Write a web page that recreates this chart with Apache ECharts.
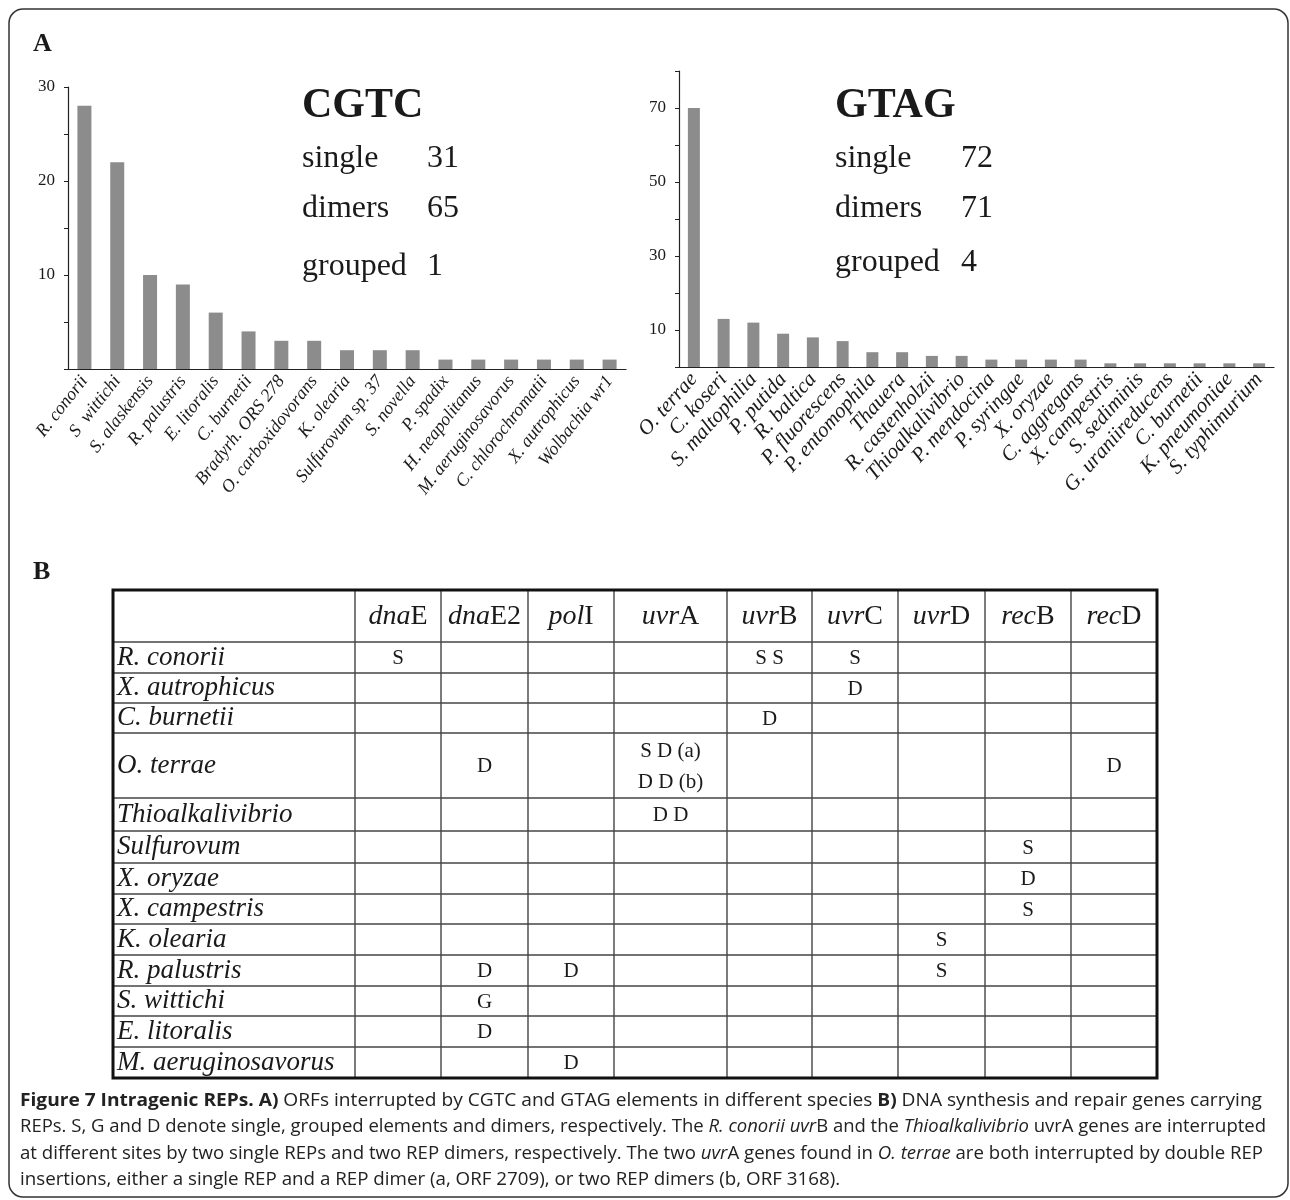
<!DOCTYPE html>
<html><head><meta charset="utf-8">
<script src="https://cdn.jsdelivr.net/npm/echarts@6/dist/echarts.min.js"></script>
<style>html,body{margin:0;padding:0;background:#fff}#c{width:1290px;height:1200px}</style>
</head><body><div id="c"></div>
<script>
// ---- Panel A data ----
const cgtcSpecies = ['R. conorii','S  wittichi','S. alaskensis','R. palustris','E. litoralis','C. burnetii','Bradyrh. ORS 278','O. carboxidovorans','K. olearia','Sulfurovum sp. 37','S. novella','P. spadix','H. neapolitanus','M. aeruginosavorus','C. chlorochromatii','X. autrophicus','Wolbachia wr1'];
const cgtcCounts = [28,22,10,9,6,4,3,3,2,2,2,1,1,1,1,1,1];
const cgtcStats = [['single',31],['dimers',65],['grouped',1]];

const gtagSpecies = ['O. terrae','C. koseri','S. maltophilia','P. putida','R. baltica','P. fluorescens','P. entomophila','Thauera','R. castenholzii','Thioalkalivibrio','P. mendocina','P. syringae','X. oryzae','C. aggregans','X. campestris','S. sediminis','G. uraniireducens','C. burnetii','K. pneumoniae','S. typhimurium'];
const gtagCounts = [70,13,12,9,8,7,4,4,3,3,2,2,2,2,1,1,1,1,1,1];
const gtagStats = [['single',72],['dimers',71],['grouped',4]];

const cgtcYLabels = [10,20,30];
const gtagYLabels = [10,30,50,70];

// ---- Panel B data ----
const geneNames = [['dna','E'],['dna','E2'],['pol','I'],['uvr','A'],['uvr','B'],['uvr','C'],['uvr','D'],['rec','B'],['rec','D']];
const tableSpecies = ['R. conorii','X. autrophicus','C. burnetii','O. terrae','Thioalkalivibrio','Sulfurovum','X. oryzae','X. campestris','K. olearia','R. palustris','S. wittichi','E. litoralis','M. aeruginosavorus'];
const tableCells = [
  ['S','','','','S S','S','','',''],
  ['','','','','','D','','',''],
  ['','','','','D','','','',''],
  ['','D','','S D (a)\nD D (b)','','','','','D'],
  ['','','','D D','','','','',''],
  ['','','','','','','','S',''],
  ['','','','','','','','D',''],
  ['','','','','','','','S',''],
  ['','','','','','','S','',''],
  ['','D','D','','','','S','',''],
  ['','G','','','','','','',''],
  ['','D','','','','','','',''],
  ['','','D','','','','','','']
];

const captionLines = [
  [['Figure 7 Intragenic REPs. A)','b'],[' ORFs interrupted by CGTC and GTAG elements in different species ','r'],['B)','b'],[' DNA synthesis and repair genes carrying','r']],
  [['REPs. S, G and D denote single, grouped elements and dimers, respectively. The ','r'],['R. conorii uvr','i'],['B and the ','r'],['Thioalkalivibrio','i'],[' uvrA genes are interrupted','r']],
  [['at different sites by two single REPs and two REP dimers, respectively. The two ','r'],['uvr','i'],['A genes found in ','r'],['O. terrae','i'],[' are both interrupted by double REP','r']],
  [['insertions, either a single REP and a REP dimer (a, ORF 2709), or two REP dimers (b, ORF 3168).','r']]
];

// ---- layout ----
const SERIF = '"Liberation Serif","Times New Roman",serif';
const SANS = '"Open Sans","Noto Sans",sans-serif';
const INK = '#1a1a1a';
const BAR = '#8c8c8c';

const graphic = [];
graphic.push({type:'rect', shape:{x:9,y:9,width:1279,height:1188,r:14}, style:{fill:'none',stroke:'#333',lineWidth:1.5}, silent:true});
graphic.push({type:'text', x:33, y:44, style:{text:'A', font:'bold 26px '+SERIF, fill:INK, verticalAlign:'middle'}});
graphic.push({type:'text', x:33, y:572, style:{text:'B', font:'bold 26px '+SERIF, fill:INK, verticalAlign:'middle'}});

function statBlock(title, stats, x0, xNum, ys){
  graphic.push({type:'text', x:x0, y:106, style:{text:title, font:'bold 42px '+SERIF, fill:INK, verticalAlign:'middle'}});
  stats.forEach((s,i)=>{
    graphic.push({type:'text', x:x0, y:ys[i], style:{text:s[0], font:'32px '+SERIF, fill:INK, verticalAlign:'middle'}});
    graphic.push({type:'text', x:xNum, y:ys[i], style:{text:String(s[1]), font:'32px '+SERIF, fill:INK, verticalAlign:'middle'}});
  });
}
statBlock('CGTC', cgtcStats, 302, 427, [159,209,267]);
statBlock('GTAG', gtagStats, 835, 961, [159,209,263]);

// table
const colX = [113,355,441,528,614,727,812,898,985,1071,1157];
const rowY = [590,642,673,703,733,798,831,863,894,924,955,986,1016,1047,1078];
for (let i=1;i<colX.length-1;i++) graphic.push({type:'line', shape:{x1:colX[i],y1:rowY[0],x2:colX[i],y2:rowY[rowY.length-1]}, style:{stroke:'#444',lineWidth:1.4}, silent:true});
for (let j=1;j<rowY.length-1;j++) graphic.push({type:'line', shape:{x1:colX[0],y1:rowY[j],x2:colX[colX.length-1],y2:rowY[j]}, style:{stroke:'#444',lineWidth:1.4}, silent:true});
graphic.push({type:'rect', shape:{x:colX[0],y:rowY[0],width:colX[colX.length-1]-colX[0],height:rowY[rowY.length-1]-rowY[0]}, style:{fill:'none',stroke:'#111',lineWidth:3}, silent:true});
geneNames.forEach((g,i)=>{
  graphic.push({type:'text', x:(colX[i+1]+colX[i+2])/2, y:(rowY[0]+rowY[1])/2+1, style:{
    text:'{i|'+g[0]+'}{r|'+g[1]+'}', align:'center', verticalAlign:'middle',
    rich:{i:{fontFamily:SERIF,fontSize:28,fontStyle:'italic',fill:INK}, r:{fontFamily:SERIF,fontSize:28,fill:INK}}}});
});
tableSpecies.forEach((sp,r)=>{
  const yc = (rowY[r+1]+rowY[r+2])/2;
  graphic.push({type:'text', x:colX[0]+4, y:yc, style:{text:sp, font:'italic 27px '+SERIF, fill:INK, verticalAlign:'middle'}});
  tableCells[r].forEach((c,k)=>{
    if(!c) return;
    graphic.push({type:'text', x:(colX[k+1]+colX[k+2])/2, y:yc+1, style:{text:c, font:'21px '+SERIF, fill:INK, align:'center', verticalAlign:'middle', lineHeight:31}});
  });
});

// caption
const CAP_FS = 18;
const measureCtx = document.createElement('canvas').getContext('2d');
const capFonts = {b:'bold '+CAP_FS+'px '+SANS, i:'italic '+CAP_FS+'px '+SANS, r:CAP_FS+'px '+SANS};
function lineWidth(segs){ return segs.reduce((w,s)=>{measureCtx.font=capFonts[s[1]]; return w+measureCtx.measureText(s[0]).width;},0); }
const capTargets = [1242,1246,1243];
const scales = captionLines.slice(0,3).map((l,i)=>capTargets[i]/lineWidth(l));
const avgScale = scales.reduce((a,b)=>a+b,0)/scales.length;
const capY = [1101,1127,1154,1180];
captionLines.forEach((segs,i)=>{
  graphic.push({type:'text', x:20, y:capY[i], scaleX: i<3?scales[i]:avgScale, style:{
    text: segs.map(s=>'{'+s[1]+'|'+s[0]+'}').join(''), verticalAlign:'middle',
    rich:{b:{fontFamily:SANS,fontSize:CAP_FS,fontWeight:'bold',fill:'#222'}, i:{fontFamily:SANS,fontSize:CAP_FS,fontStyle:'italic',fill:'#222'}, r:{fontFamily:SANS,fontSize:CAP_FS,fill:'#222'}}}});
});

function yAxisCfg(max, labels){
  return {type:'value', min:0, max:max, interval:max===30?5:10,
    axisLine:{show:true, lineStyle:{color:'#222',width:1.2}},
    axisTick:{show:true, length:4, lineStyle:{color:'#222',width:1}},
    splitLine:{show:false},
    axisLabel:{formatter:v=>labels.indexOf(v)>=0?String(v):'', fontFamily:SERIF, fontSize:17, color:INK, margin:13}};
}
function xAxisCfg(data, fs, rot){
  return {type:'category', data:data,
    axisLine:{show:true, lineStyle:{color:'#222',width:1.2}},
    axisTick:{show:false},
    axisLabel:{interval:0, rotate:rot, fontFamily:SERIF, fontStyle:'italic', fontSize:fs, color:INK, margin:9}};
}

const chart = echarts.init(document.getElementById('c'), null, {renderer:'canvas'});
chart.setOption({
  animation:false,
  backgroundColor:'#fff',
  grid:[{left:68, right:664, top:87, bottom:831}, {left:679, right:16, top:71, bottom:833}],
  xAxis:[Object.assign(xAxisCfg(cgtcSpecies,18,52),{gridIndex:0}), Object.assign(xAxisCfg(gtagSpecies,21,48),{gridIndex:1})],
  yAxis:[Object.assign(yAxisCfg(30,cgtcYLabels),{gridIndex:0}), Object.assign(yAxisCfg(80,gtagYLabels),{gridIndex:1})],
  series:[
    {type:'bar', xAxisIndex:0, yAxisIndex:0, data:cgtcCounts, barWidth:14, itemStyle:{color:BAR}},
    {type:'bar', xAxisIndex:1, yAxisIndex:1, data:gtagCounts, barWidth:12, itemStyle:{color:BAR}}
  ],
  graphic: graphic
});
</script></body></html>
